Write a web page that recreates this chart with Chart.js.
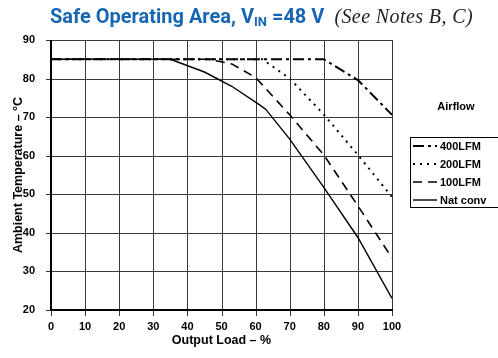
<!DOCTYPE html>
<html>
<head>
<meta charset="utf-8">
<script src="https://cdn.jsdelivr.net/npm/chart.js@4"></script>
<style>
  html, body { margin: 0; padding: 0; background: #fff; }
  #wrap { position: relative; width: 498px; height: 358px; }
  #title { position: absolute; left: 50px; top: 4px; white-space: nowrap; }
  #title .main { font-family: "Liberation Sans Narrow", "Roboto", Arial, sans-serif; font-weight: bold; font-size: 20px; color: #1766b2; }
  #title sub { font-size: 13px; vertical-align: -3px; }
  #title .note { font-family: "Liberation Serif", "DejaVu Serif", serif; font-style: italic; font-size: 20px; letter-spacing: 0.4px; color: #222; margin-left: 10px; }
</style>
</head>
<body>
<div id="wrap">
  <canvas id="chart" width="498" height="358"></canvas>
  <div id="title"><span class="main">Safe Operating Area, V<sub>IN</sub> =48 V</span><span class="note">(See Notes B, C)</span></div>
</div>
<script>
// values (output load %, ambient temp °C)
const labels = ['400LFM', '200LFM', '100LFM', 'Nat conv'];
const lfm400X = [0, 80, 90, 100];
const lfm400Y = [85, 85, 79.6, 70.6];
const lfm200X = [0, 62, 70, 80, 90, 100];
const lfm200Y = [85, 85, 80, 70.7, 60.2, 49.3];
const lfm100X = [0, 46, 53, 60, 70, 80, 90, 100];
const lfm100Y = [85, 85, 83.8, 80.3, 70.6, 60.2, 47, 33.5];
const natX = [0, 35, 45, 53, 61.5, 63, 70, 80, 90, 100];
const natY = [85, 85, 81.7, 78, 73, 72, 64.3, 51.8, 38.8, 23];
const xTicks = [0, 10, 20, 30, 40, 50, 60, 70, 80, 90, 100];
const yTicks = [20, 30, 40, 50, 60, 70, 80, 90];

const pts = (xs, ys) => xs.map((x, i) => ({ x: x, y: ys[i] }));
const dashes = [[11, 4, 3, 4], [2, 5], [9, 6], []];
const widths = [2, 2, 1.6, 1.4];
const axisFont = { family: 'Arial, "Liberation Sans", sans-serif', weight: 'bold', size: 11 };
const titleFont = { family: 'Arial, "Liberation Sans", sans-serif', weight: 'bold', size: 12.5 };

// grid + outside tick marks as 1px bars, spaced over the chart area by tick value
const gridLines = {
  id: 'gridLines',
  beforeDatasetsDraw(chart) {
    const ctx = chart.ctx;
    const a = chart.chartArea;
    const t = Math.round(a.top), b = Math.round(a.bottom);
    const l = Math.round(a.left), r = Math.round(a.right);
    const x0 = xTicks[0], x1 = xTicks[xTicks.length - 1];
    const y0 = yTicks[0], y1 = yTicks[yTicks.length - 1];
    ctx.save();
    ctx.fillStyle = '#3a3a3a';
    for (let i = 0; i < xTicks.length; i++) {
      const px = Math.round(l + (xTicks[i] - x0) / (x1 - x0) * (r - l));
      ctx.fillRect(px, t, 1, b - t + 6);
    }
    for (let i = 0; i < yTicks.length; i++) {
      const py = Math.round(b - (yTicks[i] - y0) / (y1 - y0) * (b - t));
      ctx.fillRect(l - 5, py, r - l + 6, 1);
    }
    ctx.fillStyle = '#000';
    ctx.fillRect(l - 1, t, 2, b - t + 1);
    ctx.fillRect(l - 1, b - 1, r - l + 2, 2);
    ctx.restore();
  }
};

const legendBox = {
  id: 'legendBox',
  afterDraw(chart) {
    const ctx = chart.ctx;
    ctx.save();
    ctx.fillStyle = '#000';
    ctx.font = 'bold 11px Arial, "Liberation Sans", sans-serif';
    ctx.textAlign = 'center';
    ctx.textBaseline = 'middle';
    ctx.fillText('Airflow', 456, 107);
    ctx.strokeStyle = '#000';
    ctx.lineWidth = 1;
    ctx.strokeRect(410.5, 137.5, 100, 70);
    ctx.textAlign = 'left';
    chart.data.datasets.forEach((ds, i) => {
      const yy = 146 + i * 18;
      ctx.beginPath();
      ctx.setLineDash(ds.borderDash);
      ctx.lineWidth = ds.borderWidth;
      ctx.moveTo(413, yy);
      ctx.lineTo(437, yy);
      ctx.stroke();
      ctx.setLineDash([]);
      ctx.fillText(ds.label, 440, yy + 1);
    });
    ctx.restore();
  }
};

new Chart(document.getElementById('chart'), {
  type: 'line',
  data: {
    datasets: [
      { label: labels[0], data: pts(lfm400X, lfm400Y) },
      { label: labels[1], data: pts(lfm200X, lfm200Y) },
      { label: labels[2], data: pts(lfm100X, lfm100Y) },
      { label: labels[3], data: pts(natX, natY) }
    ].map((ds, i) => Object.assign(ds, {
      borderColor: '#000',
      borderWidth: widths[i],
      borderDash: dashes[i],
      pointRadius: 0,
      tension: 0,
      fill: false
    }))
  },
  options: {
    responsive: false,
    animation: false,
    layout: { padding: { top: 40, right: 106, left: 0, bottom: 0 } },
    plugins: { legend: { display: false }, tooltip: { enabled: false } },
    scales: {
      x: {
        type: 'linear',
        min: xTicks[0], max: xTicks[xTicks.length - 1],
        afterFit: s => { s.height = 48; },
        grid: { display: false },
        border: { display: false },
        ticks: { stepSize: 10, color: '#000', font: axisFont, padding: 2, maxRotation: 0 },
        title: { display: true, text: 'Output Load – %', color: '#000', font: titleFont, padding: { top: 0, bottom: 10 } }
      },
      y: {
        min: yTicks[0], max: yTicks[yTicks.length - 1],
        afterFit: s => { s.width = 51; },
        grid: { display: false },
        border: { display: false },
        ticks: { stepSize: 10, color: '#000', font: axisFont, padding: 8 },
        title: { display: true, text: 'Ambient Temperature – °C', color: '#000', font: titleFont, padding: { top: 11, bottom: 0 } }
      }
    }
  },
  plugins: [gridLines, legendBox]
});
</script>
</body>
</html>
